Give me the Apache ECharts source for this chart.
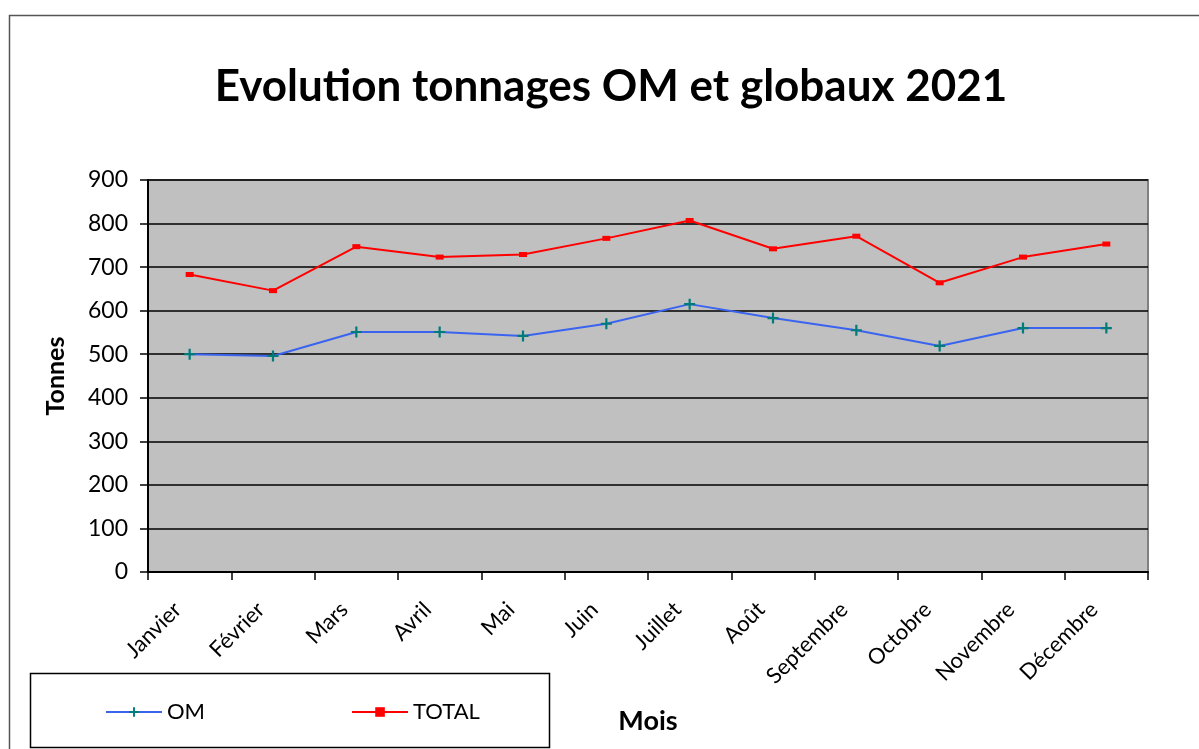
<!DOCTYPE html>
<html>
<head>
<meta charset="utf-8">
<script src="https://cdn.jsdelivr.net/npm/echarts@6/dist/echarts.min.js"></script>
<style>
  html, body { margin: 0; padding: 0; background: #fff; }
  #chart { width: 1199px; height: 749px; }
</style>
</head>
<body>
<div id="chart"></div>
<script>
// données
const mois = ['Janvier', 'Février', 'Mars', 'Avril', 'Mai', 'Juin', 'Juillet', 'Août', 'Septembre', 'Octobre', 'Novembre', 'Décembre']
const om = [500, 496, 551, 551, 542, 570, 615, 583, 555, 519, 560, 560]
const total = [683, 646, 747, 723, 729, 766, 807, 742, 771, 664, 723, 753]

const font = 'Lato, "Open Sans", sans-serif'
const plusPath = 'path://M4,0H6V4H10V6H6V10H4V6H0V4H4Z'

const chart = echarts.init(document.getElementById('chart'))

const option = {
  backgroundColor: '#fff',
  animation: false,
  title: {
    text: 'Evolution tonnages OM et globaux 2021',
    left: 606,
    top: 60,
    textAlign: 'center',
    textStyle: { fontFamily: font, fontSize: 44, fontWeight: 'bold', color: '#000' }
  },
  graphic: [
    { // cadre extérieur
      type: 'rect',
      shape: { x: 9.5, y: 15.5, width: 1220, height: 760 },
      style: { fill: 'none', stroke: '#555', lineWidth: 1.5 },
      silent: true, z: -1
    },
    { // cadre de la légende
      type: 'rect',
      shape: { x: 30.5, y: 673.5, width: 519, height: 74 },
      style: { fill: '#fff', stroke: '#000', lineWidth: 1.5 },
      silent: true, z: 0
    }
  ],
  legend: {
    left: 100,
    top: 696,
    itemGap: 146,
    itemWidth: 56,
    itemHeight: 12,
    z: 5,
    textStyle: { fontFamily: font, fontSize: 22, color: '#000' },
    data: ['OM', 'TOTAL']
  },
  grid: {
    left: 148,
    right: 51,
    top: 180,
    bottom: 177,
    show: true,
    backgroundColor: '#c0c0c0',
    borderColor: '#808080',
    borderWidth: 2
  },
  xAxis: {
    type: 'category',
    data: mois,
    boundaryGap: true,
    name: 'Mois',
    nameLocation: 'middle',
    nameGap: 136,
    nameTextStyle: { fontFamily: font, fontSize: 27, fontWeight: 'bold', color: '#000' },
    axisLine: { lineStyle: { color: '#000', width: 2 } },
    axisTick: { show: true, length: 8, lineStyle: { color: '#000', width: 1.5 } },
    axisLabel: {
      rotate: 45,
      interval: 0,
      margin: 22,
      padding: [0, 17, 0, 0],
      fontFamily: font,
      fontSize: 22,
      color: '#000'
    },
    splitLine: { show: false }
  },
  yAxis: {
    type: 'value',
    min: 0,
    max: 900,
    interval: 100,
    name: 'Tonnes',
    nameLocation: 'middle',
    nameGap: 80,
    nameTextStyle: { fontFamily: font, fontSize: 25, fontWeight: 'bold', color: '#000' },
    axisLine: { show: true, lineStyle: { color: '#000', width: 2 } },
    axisTick: { show: true, length: 8, lineStyle: { color: '#000', width: 1.5 } },
    axisLabel: { margin: 20, fontFamily: font, fontSize: 23, color: '#000' },
    splitLine: { lineStyle: { color: '#000', width: 1.5 } }
  },
  series: [
    {
      name: 'OM',
      type: 'line',
      data: om,
      symbol: plusPath,
      symbolSize: 11,
      color: '#3a64f0',
      lineStyle: { color: '#3a64f0', width: 2 },
      itemStyle: { color: '#007b7b' },
      z: 3
    },
    {
      name: 'TOTAL',
      type: 'line',
      data: total,
      symbol: 'rect',
      symbolSize: [8, 5],
      color: '#ff0000',
      lineStyle: { color: '#ff0000', width: 2 },
      itemStyle: { color: '#ff0000' },
      z: 3
    }
  ]
}
chart.setOption(option)
</script>
</body>
</html>
